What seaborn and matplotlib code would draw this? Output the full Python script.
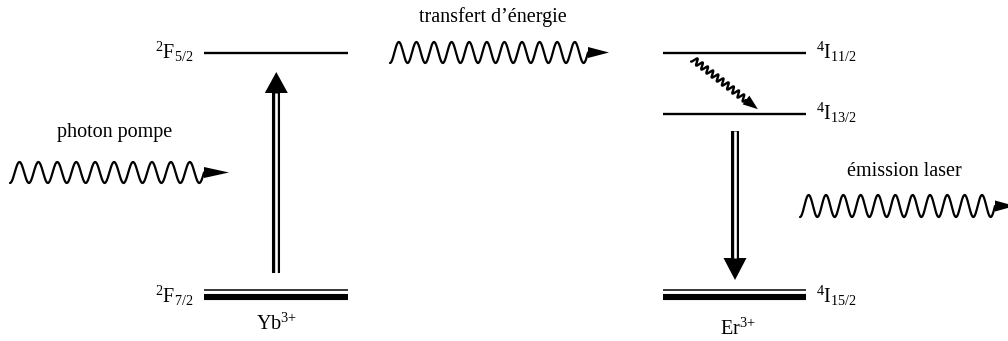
import numpy as np
import pandas as pd
import matplotlib
matplotlib.use("Agg")
import matplotlib.pyplot as plt
import seaborn as sns

# ---------------- data ----------------
ions = ["Yb$^{3{+}}$", "Er$^{3{+}}$"]
yb_levels = ["$^{2}$F$_{7/2}$", "$^{2}$F$_{5/2}$"]
yb_energy = [0.0, 1.0]
er_levels = ["$^{4}$I$_{15/2}$", "$^{4}$I$_{13/2}$", "$^{4}$I$_{11/2}$"]
er_energy = [0.0, 0.75, 1.0]
process_labels = ["photon pompe", "transfert d’énergie", "émission laser"]

# ---------------- style ----------------
sns.set_theme(style="white")
plt.rcParams["font.family"] = ["Liberation Serif", "DejaVu Serif"]
plt.rcParams["mathtext.fontset"] = "custom"
plt.rcParams["mathtext.rm"] = "Liberation Serif"
plt.rcParams["mathtext.it"] = "Liberation Serif:italic"
plt.rcParams["mathtext.default"] = "regular"
plt.rcParams["text.color"] = "black"

W, H = 1008, 341
fig = plt.figure(figsize=(W / 100, H / 100), dpi=100)
ax = fig.add_axes([0, 0, 1, 1])

# vertical mapping: pixel row of ground level and pixels per energy unit
Y0, S = 297.0, 244.0
def E(px):
    return (Y0 - px) / S

ax.set_xlim(0, W)
ax.set_ylim(E(H), E(0))
ax.axis("off")

FS = 14.5
yb_x = (204, 348)
er_x = (663, 806)

# ---------------- excited levels (seaborn) ----------------
rows = []
for name, en in zip(yb_levels, yb_energy):
    if en > 0:
        rows += [dict(x=yb_x[0], E=en, lvl="Yb" + name), dict(x=yb_x[1], E=en, lvl="Yb" + name)]
for name, en in zip(er_levels, er_energy):
    if en > 0:
        rows += [dict(x=er_x[0], E=en, lvl="Er" + name), dict(x=er_x[1], E=en, lvl="Er" + name)]
df = pd.DataFrame(rows)
sns.lineplot(data=df, x="x", y="E", units="lvl", estimator=None, color="black",
             lw=1.7, ax=ax, legend=False, solid_capstyle="butt")

# ground levels: thin + thick line
for (x0, x1) in (yb_x, er_x):
    ax.hlines(E(Y0 - 7), x0, x1, color="black", lw=1.1, capstyle="butt")
    ax.hlines(0.0, x0, x1, color="black", lw=4.4, capstyle="butt")

# ---------------- labels ----------------
for name, en in zip(yb_levels, yb_energy):
    ax.text(193, en - 6 / S, name, ha="right", va="baseline", fontsize=FS, color="black")
for name, en in zip(er_levels, er_energy):
    ax.text(816, en - 6 / S, name, ha="left", va="baseline", fontsize=FS, color="black")
ax.text(277, E(330), ions[0], ha="center", va="baseline", fontsize=FS, color="black")
ax.text(738, E(335), ions[1], ha="center", va="baseline", fontsize=FS, color="black")

ax.text(115, E(133), process_labels[0], ha="center", va="center", fontsize=FS, color="black")
ax.text(493, E(17), process_labels[1], ha="center", va="center", fontsize=FS, color="black")
ax.text(904, E(172), process_labels[2], ha="center", va="center", fontsize=FS, color="black")

# ---------------- double arrows ----------------
def double_arrow(xc, px_from, px_base, px_tip, half=11.5):
    ax.plot([xc, xc], [E(px_from), E(px_base)], color="black", lw=5.8, solid_capstyle="butt")
    ax.plot([xc, xc], [E(px_from), E(px_base)], color="white", lw=1.9, solid_capstyle="butt")
    ax.fill([xc - half, xc + half, xc], [E(px_base), E(px_base), E(px_tip)],
            color="black", lw=0)

double_arrow(276.3, 273, 93, 72)
double_arrow(735.0, 131, 258, 280)

# ---------------- wavy arrows ----------------
def wavy(p0, p1, amp, nper, head_len, head_half, lw=1.6):
    p0 = np.asarray(p0, float)
    p1 = np.asarray(p1, float)
    d = p1 - p0
    L = np.hypot(*d)
    u = d / L
    n = np.array([-u[1], u[0]])
    if n[1] < 0:
        n = -n
    t = np.linspace(0, 1, 600)
    pts = p0[None, :] + t[:, None] * d[None, :] + (amp * np.cos(2 * np.pi * nper * t))[:, None] * n[None, :]
    ax.plot(pts[:, 0], E(pts[:, 1]), color="black", lw=lw, solid_capstyle="round")
    base = p1
    tip = p1 + u * head_len
    a = base + n * head_half
    b = base - n * head_half
    ax.fill([a[0], b[0], tip[0]], [E(a[1]), E(b[1]), E(tip[1])], color="black", lw=0)

wavy((10, 172.5), (204, 172.5), 10.5, 10.25, 25, 5.5)
wavy((390, 52.5), (588, 52.5), 10.5, 11.25, 21, 5.5)
wavy((800, 206), (995, 206), 11.0, 11.25, 20, 5.5)
wavy((693, 59), (746, 100), 3.2, 10.25, 15, 5.5, lw=1.7)

fig.savefig("out.png", dpi=100)
